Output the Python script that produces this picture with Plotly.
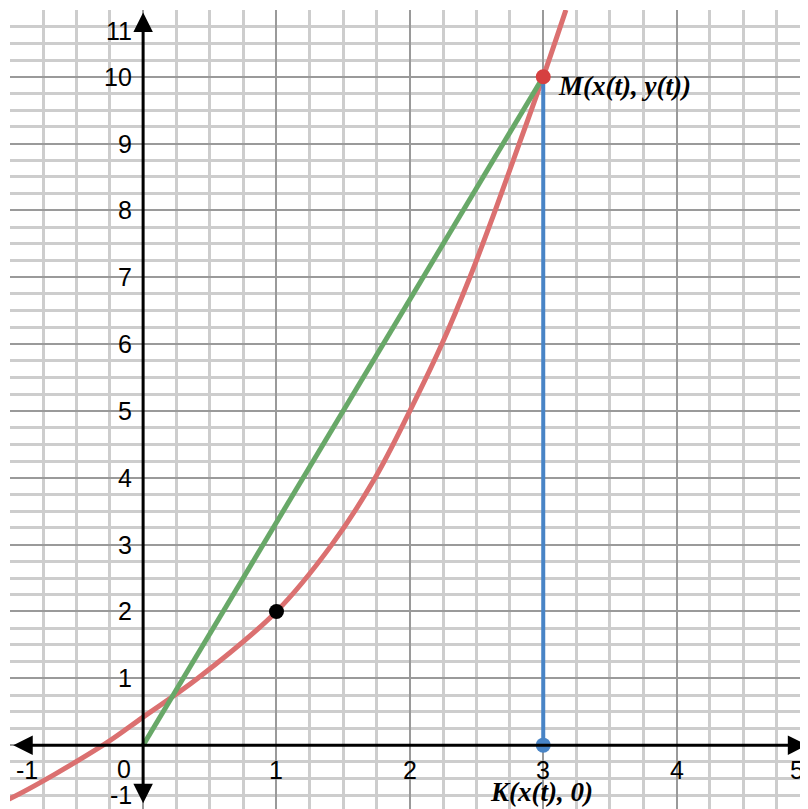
import plotly.graph_objects as go

# ---- data ----
curve_x = [-1.2, -1.0, -0.3, 0.0, 0.41, 1.0, 1.415, 1.74, 2.0, 2.24, 2.45, 2.64, 2.82, 3.0, 3.17]
curve_y = [-0.95, -0.8, 0.0, 0.42, 1.0, 2.0, 3.0, 4.0, 5.0, 6.0, 7.0, 8.0, 9.0, 10.0, 11.0]
chord_x = [0, 3]
chord_y = [0, 10]
proj_x = [3, 3]
proj_y = [0, 10]
point_A = (1, 2)
point_M = (3, 10)
point_K = (3, 0)
label_M = "M(x(t), y(t))"
label_K = "K(x(t), 0)"
x_tick_vals = [-1, 1, 2, 3, 4, 5]
x_tick_text = ["-1", "1", "2", "3", "4", "5"]
y_tick_vals = [-1, 1, 2, 3, 4, 5, 6, 7, 8, 9, 10, 11]
y_tick_text = ["-1", "1", "2", "3", "4", "5", "6", "7", "8", "9", "10", "11"]
origin_text = "0"

RED = "rgb(219,112,112)"
GREEN = "rgb(104,168,104)"
BLUE = "rgb(72,132,198)"
TICKFONT = dict(family="Liberation Sans, Arial", size=25, color="black")
LBLFONT = dict(family="Liberation Serif, Times New Roman", size=27, color="black")

X_RANGE = [-0.998, 4.985]
Y_RANGE = [-0.955, 10.998]
# labels at the range edges are pushed inside the visible area (style)
x_label_pos = {-1: -0.87, 5: 4.905}
y_label_pos = {11: 10.69, -1: -0.74}

fig = go.Figure()
fig.add_trace(go.Scatter(x=curve_x, y=curve_y, mode="lines",
                         line=dict(color=RED, width=5, shape="spline", smoothing=1.0),
                         hoverinfo="skip"))
fig.add_trace(go.Scatter(x=chord_x, y=chord_y, mode="lines",
                         line=dict(color=GREEN, width=5), hoverinfo="skip"))
fig.add_trace(go.Scatter(x=proj_x, y=proj_y, mode="lines",
                         line=dict(color=BLUE, width=4), hoverinfo="skip"))
fig.add_trace(go.Scatter(x=[point_A[0]], y=[point_A[1]], mode="markers",
                         marker=dict(color="black", size=15), hoverinfo="skip"))
fig.add_trace(go.Scatter(x=[point_M[0]], y=[point_M[1]], mode="markers",
                         marker=dict(color="rgb(214,64,64)", size=15), hoverinfo="skip"))
fig.add_trace(go.Scatter(x=[point_K[0]], y=[point_K[1]], mode="markers",
                         marker=dict(color=BLUE, size=15), hoverinfo="skip"))

ann = []
# axes with arrowheads at both ends
ann.append(dict(x=4.98, y=0, ax=-0.985, ay=0, xref="x", yref="y", axref="x", ayref="y",
                text="", showarrow=True, arrowside="end+start", arrowhead=2, startarrowhead=2,
                arrowwidth=3, arrowsize=1.3, startarrowsize=1.3, arrowcolor="black"))
ann.append(dict(x=0, y=10.96, ax=0, ay=-0.89, xref="x", yref="y", axref="x", ayref="y",
                text="", showarrow=True, arrowside="end+start", arrowhead=2, startarrowhead=2,
                arrowwidth=3, arrowsize=1.3, startarrowsize=1.3, arrowcolor="black"))

# tick labels
for v, t in zip(x_tick_vals, x_tick_text):
    ann.append(dict(x=x_label_pos.get(v, v), y=0, xref="x", yref="y", text=t, showarrow=False,
                    xanchor="center", yanchor="middle", yshift=-25, font=TICKFONT))
for v, t in zip(y_tick_vals, y_tick_text):
    ann.append(dict(x=0, y=y_label_pos.get(v, v), xref="x", yref="y", text=t, showarrow=False,
                    xanchor="right", yanchor="middle", xshift=-9, font=TICKFONT))
ann.append(dict(x=0, y=0, xref="x", yref="y", text=origin_text, showarrow=False,
                xanchor="right", yanchor="middle", xshift=-10, yshift=-24, font=TICKFONT))

# point labels
ann.append(dict(x=point_M[0], y=point_M[1], xref="x", yref="y", text="<b><i>" + label_M + "</i></b>",
                showarrow=False, xanchor="left", yanchor="middle", xshift=13, yshift=-9,
                font=LBLFONT))
ann.append(dict(x=point_K[0], y=point_K[1], xref="x", yref="y", text="<b><i>" + label_K + "</i></b>",
                showarrow=False, xanchor="left", yanchor="middle", xshift=-55, yshift=-47,
                font=LBLFONT))

axis_common = dict(showline=False, zeroline=False, showticklabels=False, ticks="",
                   dtick=1, tick0=0, gridcolor="#9a9a9a", gridwidth=2,
                   minor=dict(dtick=0.25, tick0=0, showgrid=True, gridcolor="#cdcdcd", gridwidth=3))
# page body has an 8px default margin; figure sized so it ends at the window edge
fig.update_layout(
    width=800, height=801,
    margin=dict(l=2, r=0, t=2, b=0),
    paper_bgcolor="white", plot_bgcolor="white",
    showlegend=False,
    xaxis=dict(range=X_RANGE, **axis_common),
    yaxis=dict(range=Y_RANGE, **axis_common),
    annotations=ann,
)
fig.write_html("out.html")
